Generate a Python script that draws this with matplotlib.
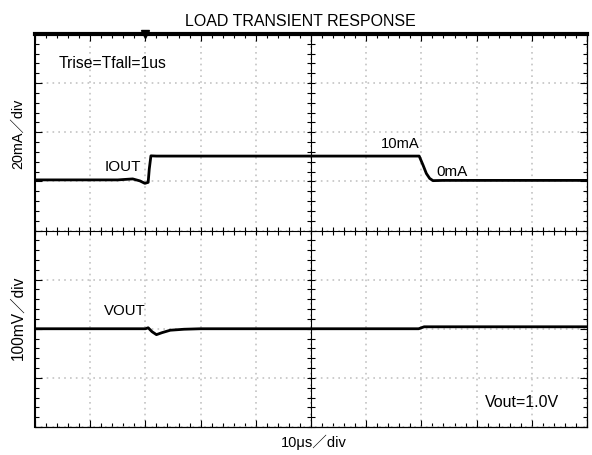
import matplotlib
matplotlib.use('Agg')
import matplotlib.pyplot as plt
import numpy as np

# scope screen: 10 div horizontally (10us/div), 8 div vertically
t_iout = [0.0, 1.5, 1.77, 1.9, 1.99, 2.05, 2.07, 2.10, 2.2, 6.96, 7.03, 7.09, 7.15, 7.21, 7.4, 10.0]
iout_ma = [0.6, 0.6, 1.0, 0.2, -0.8, -0.4, 5.0, 10.4, 10.3, 10.3, 6.6, 3.2, 1.2, 0.3, 0.4, 0.4]

t_vout = [0.0, 2.0, 2.05, 2.12, 2.2, 2.3, 2.45, 2.7, 3.0, 6.95, 7.05, 10.0]
vout_v = [1.0, 1.0, 1.002, 0.994, 0.988, 0.992, 0.997, 0.999, 1.0, 1.0, 1.004, 1.004]

iout_scale, iout_pos = 20.0, 1.0      # mA/div, screen position of 0 mA
vout_scale, vout_pos, vout_ref = 0.1, -2.0, 1.0

font = ['Liberation Sans', 'Noto Sans CJK JP']
plt.rcParams['font.family'] = font

fig = plt.figure(figsize=(5.92, 4.56), dpi=100)
ax = fig.add_axes([35/592, 1-428/456, 552/592, 393/456])
ax.set_xlim(0, 10)
ax.set_ylim(-4, 4)

ax.set_xticks(np.arange(0, 11, 1))
ax.set_yticks(np.arange(-4, 5, 1))
ax.set_xticks(np.arange(0, 10.01, 0.2), minor=True)
ax.set_yticks(np.arange(-4, 4.01, 0.2), minor=True)
ax.tick_params(which='both', direction='in', top=True, right=True,
               labelbottom=False, labelleft=False)
ax.tick_params(which='major', length=5, width=0.8)
ax.tick_params(which='minor', length=3, width=0.8)
ax.grid(which='major', color='#c4c4c4', linestyle=(0, (1, 2.5)), linewidth=1.2)
ax.spines['top'].set_linewidth(3)
ax.spines['left'].set_linewidth(1.5)
for s in ['bottom', 'right']:
    ax.spines[s].set_linewidth(0.9)

# centre cross with ticks
cx = fig.add_axes(ax.get_position(), frameon=True)
cx.patch.set_visible(False)
cx.set_xlim(0, 10)
cx.set_ylim(-4, 4)
cx.spines['left'].set_position(('data', 5))
cx.spines['bottom'].set_position(('data', 0))
cx.spines['top'].set_visible(False)
cx.spines['right'].set_visible(False)
cx.set_xticks(np.arange(0, 10.01, 0.2))
cx.set_yticks(np.arange(-4, 4.01, 0.2))
cx.tick_params(direction='inout', length=6, width=0.8,
               labelbottom=False, labelleft=False)

ax.plot(t_iout, iout_pos + np.array(iout_ma) / iout_scale, color='black', lw=2)
ax.plot(t_vout, vout_pos + (np.array(vout_v) - vout_ref) / vout_scale, color='black', lw=2)
ax.plot([2.0], [4.0], marker='v', color='black', ms=6, clip_on=False)

ax.text(0.42, 3.43, 'Trise=Tfall=1us', fontsize=11.3, va='center')
ax.text(1.27, 1.31, 'IOUT', fontsize=11, va='center')
ax.text(6.26, 1.78, '10mA', fontsize=10.6, va='center')
ax.text(7.28, 1.21, '0mA', fontsize=11, va='center')
ax.text(1.25, -1.61, 'VOUT', fontsize=10.8, va='center')
ax.text(8.15, -3.48, 'Vout=1.0V', fontsize=11.5, va='center')

fig.text(300/592, 1-21/456, 'LOAD TRANSIENT RESPONSE', fontsize=11.5, ha='center', va='center')
fig.text(18/592, 1-134/456, '20mA／div', fontsize=10.4, rotation=90, ha='center', va='center')
fig.text(18/592, 1-318/456, '100mV／div', fontsize=11.2, rotation=90, ha='center', va='center')
fig.text(314/592, 1-442/456, '10μs／div', fontsize=10.5, ha='center', va='center')

fig.savefig('out.png', dpi=100)
